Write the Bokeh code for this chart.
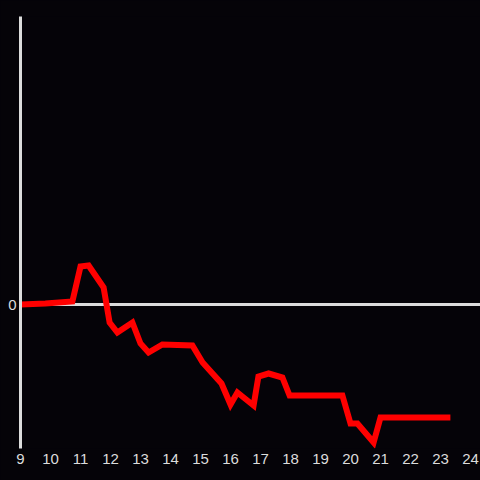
from bokeh.plotting import figure
from bokeh.models import Span, FixedTicker
from bokeh.embed import file_html
from bokeh.resources import INLINE
from bokeh.core.templates import get_env

hours = [9.0, 9.83, 10.73, 11.0, 11.27, 11.77, 11.97, 12.23, 12.73, 13.0, 13.27, 13.73,
         14.73, 15.07, 15.7, 16.0, 16.23, 16.77, 16.93, 17.27, 17.73, 17.97, 19.73,
         20.0, 20.23, 20.77, 21.0, 23.33]
values = [0, 1, 3, 38, 39, 17, -18, -28, -18, -39, -48, -40,
          -41, -58, -79, -100, -88, -101, -72, -69, -73, -91, -91,
          -119, -119, -138, -113, -113]
x_ticks = list(range(9, 25))
y_ticks = [0]

BG = "#050308"
FG = "#dcdcdc"

p = figure(width=480, height=480, output_backend="svg", toolbar_location=None,
           x_range=(9, 24.333), y_range=(-144, 288),
           background_fill_color=BG, border_fill_color=BG,
           min_border_left=20, min_border_right=0, min_border_top=16, min_border_bottom=32)
p.outline_line_color = None
p.grid.visible = False

p.add_layout(Span(location=0, dimension="width", line_color=FG, line_width=3, level="underlay"))

p.line(hours, values, line_color="#ff0000", line_width=6, line_join="miter", line_cap="butt")

p.xaxis.ticker = FixedTicker(ticks=x_ticks)
p.yaxis.ticker = FixedTicker(ticks=y_ticks)
for ax in (p.xaxis[0], p.yaxis[0]):
    ax.major_tick_line_color = None
    ax.minor_tick_line_color = None
    ax.major_tick_out = 0
    ax.major_tick_in = 0
    ax.major_label_text_color = FG
    ax.major_label_text_font = "Liberation Sans"
    ax.major_label_text_font_size = "15px"
p.xaxis.axis_line_color = None
p.yaxis.axis_line_color = FG
p.yaxis.axis_line_width = 3
p.yaxis.major_label_standoff = 4
p.xaxis.major_label_standoff = 5

template = get_env().from_string(
    '{% extends "file.html" %}'
    '{% block preamble %}<style>html, body { background-color: #050308; }</style>{% endblock %}'
)

open("out.html", "w").write(file_html(p, INLINE, template=template))
